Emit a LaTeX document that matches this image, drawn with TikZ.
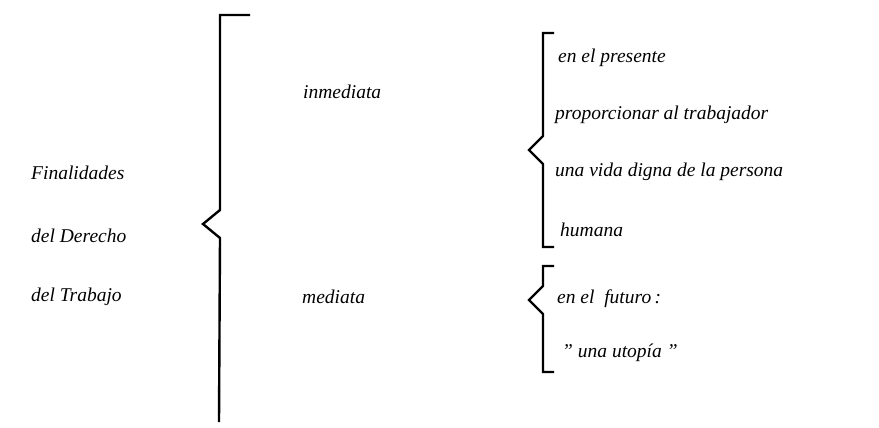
\documentclass[tikz,border=0pt]{standalone}
\usepackage{fontspec}
\setmainfont{Liberation Serif}
\usepackage{tikz}
\usetikzlibrary{positioning}

\begin{document}
\begin{tikzpicture}
                    [x=1pt, y=-1pt, every node/.style={anchor=west, inner sep=0pt, font=\fontsize{19.5}{22}\selectfont\itshape}]
                    \tikzset{brace/.style = {line width=2.4pt, line join=miter}}
                    \useasboundingbox (0,0) rectangle (879,428);
                    \node (fin)  at (31,173)  {Finalidades};
                    \node (der)  at (31,236)  {del Derecho};
                    \node (trab) at (31,297)  {del Trabajo};
                    \node (inm)  at (303,92)  {inmediata};
                    \node (med)  at (302,297) {mediata};
                    \node (pres) at (558,58)  {en el presente};
                    \node (prop) at (555,115) {proporcionar al trabajador};
                    \node (vida) at (555,172) {una vida digna de la persona};
                    \node (hum)  at (560,230) {humana};
                    \node (fut)  at (557,299) {en el\ \ futuro\,:};
                    \node (uto)  at (562,353) {" una utopía "};

                    \draw[brace] (250,15) -- (220,15) -- (220,210) -- (203,224) -- (220,238) -- (219,422);
                    \foreach \top/\tip/\bot in {33/150/247,266/300/372}
                        \draw[brace] (554,\top) -- (543,\top) -- (543,\tip-14) -- (529,\tip) -- (543,\tip+14) -- (543,\bot) -- (554,\bot);
                \end{tikzpicture}
\end{document}
